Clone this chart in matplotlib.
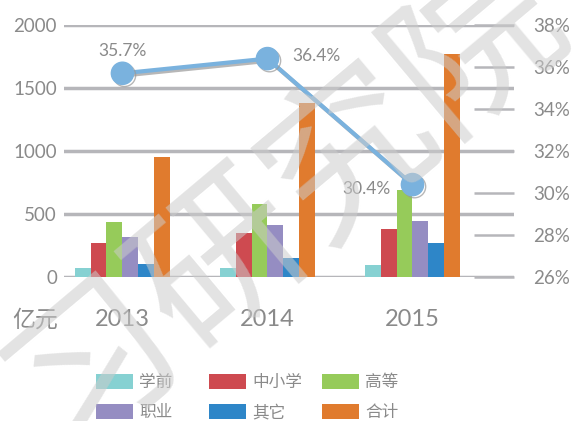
import numpy as np
import matplotlib
matplotlib.use('Agg')
import matplotlib.pyplot as plt
import matplotlib.patheffects as pe

plt.rcParams['font.family'] = ['Lato', 'Noto Sans CJK SC', 'DejaVu Sans']

years = ['2013', '2014', '2015']
series = ['学前', '中小学', '高等', '职业', '其它', '合计']
xueqian = [70, 70, 95]
zhongxiao = [270, 349, 381]
gaodeng = [437, 579, 690]
zhiye = [318, 413, 444]
qita = [103, 151, 270]
heji = [952, 1381, 1770]
ratio = [35.7, 36.4, 30.4]
ratio_labels = ['35.7%', '36.4%', '30.4%']

colors = ['#86d1d2', '#ce4a50', '#96cb5a', '#958dc2', '#2e86c8', '#e07b2e']
grey = '#8a8a8a'
grid_c = '#b6b6ba'

fig = plt.figure(figsize=(5.72, 4.21), dpi=100)
ax = fig.add_axes([64/572, 1-277/421, 450/572, 252/421])
x = np.arange(len(years))
w = 0.11
vals = [xueqian, zhongxiao, gaodeng, zhiye, qita, heji]
bars = []
for i, (v, c, s) in enumerate(zip(vals, colors, series)):
    bars.append(ax.bar(x + (i - 2.5) * w, v, w, color=c, label=s, zorder=3))

ax.set_xlim(-0.403, 2.70)
ax.set_ylim(0, 2000)
ax.set_yticks([0, 500, 1000, 1500, 2000])
ax.grid(axis='y', color=grid_c, lw=2.5, zorder=0)
ax.set_axisbelow(True)
for s in ax.spines.values():
    s.set_visible(False)
ax.tick_params(axis='y', length=0, pad=5, labelsize=13.5, labelcolor=grey)
ax.set_xticks(x)
ax.set_xticklabels(years)
ax.tick_params(axis='x', length=0, pad=23, labelsize=17, labelcolor=grey)
ax.text(-0.115, -0.17, '亿元', transform=ax.transAxes, fontsize=16.5, color=grey,
        ha='left', va='center', family=['Noto Sans CJK SC'])

ax2 = ax.twinx()
ax2.set_ylim(26, 38)
ax2.set_yticks(np.arange(26, 39, 2))
ax2.set_yticklabels([f'{t}%' for t in range(26, 39, 2)])
for s in ax2.spines.values():
    s.set_visible(False)
ax2.tick_params(axis='y', direction='in', length=29, width=1.8, color=grid_c,
                pad=14, labelsize=13.5, labelcolor=grey)
ax2.plot(x, ratio, color='#7ab2de', lw=3, marker='o', ms=16, mec='#7ab2de', zorder=5,
         path_effects=[pe.SimpleLineShadow(offset=(1.5, -1.5), shadow_color='#999999', alpha=0.7),
                       pe.Normal()])
offs = [(0, 16, 'center'), (18, 2, 'left'), (-16, -3, 'right')]
for xi, yi, lab, (dx, dy, ha) in zip(x, ratio, ratio_labels, offs):
    ax2.annotate(lab, (xi, yi), xytext=(dx, dy), textcoords='offset points',
                 ha=ha, va='center', fontsize=12.5, color=grey)

# legend: 3 evenly spaced columns, two rows
col_x = [96/572, 209/572, 322/572]
for k in range(3):
    idx = [k, k + 3]
    leg = fig.legend([bars[i] for i in idx], [series[i] for i in idx],
                     loc='upper left', bbox_to_anchor=(col_x[k], 1-374/421), ncol=1,
                     frameon=False, fontsize=12, handlelength=2.2, handleheight=1.0,
                     handletextpad=0.4, labelspacing=0.85,
                     borderpad=0, borderaxespad=0, labelcolor=grey)

# watermark
fig.text(0.5, 0.52, '习研究院', rotation=40, fontsize=120, color='#cccccc', alpha=0.55,
         ha='center', va='center', family=['Noto Sans CJK SC'], zorder=10)

fig.savefig('out.png', dpi=100)
